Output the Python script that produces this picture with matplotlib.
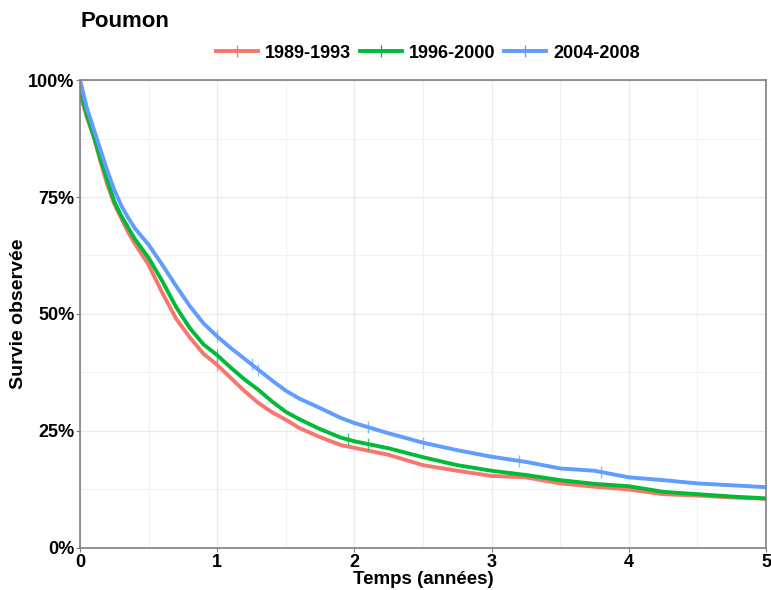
import numpy as np
import matplotlib
matplotlib.use('Agg')
from matplotlib import pyplot as plt
from matplotlib.lines import Line2D

plt.rcParams['font.family'] = ['Liberation Sans', 'DejaVu Sans']
plt.rcParams['font.weight'] = 'bold'

# survival (years, %)
temps = [0, 0.05, 0.1, 0.15, 0.2, 0.25, 0.3, 0.35, 0.4, 0.5, 0.6, 0.7, 0.8,
         0.9, 1.0, 1.1, 1.2, 1.3, 1.4, 1.5, 1.6, 1.75, 1.9, 2.0, 2.25, 2.5,
         2.75, 3.0, 3.25, 3.5, 3.75, 4.0, 4.25, 4.5, 4.75, 5.0]
surv_8993 = [97, 92, 87.8, 82.5, 77.5, 73.5, 70.5, 67.5, 65, 60.5, 54.5, 49,
             45, 41.5, 39.1, 36.3, 33.5, 31, 29, 27.4, 25.6, 23.7, 22, 21.4,
             19.9, 17.7, 16.5, 15.4, 15.1, 13.8, 13.1, 12.5, 11.5, 11.2,
             10.8, 10.5]
surv_9600 = [98, 92.5, 88, 83, 78.5, 74, 71, 68.5, 66, 62, 57, 51.5, 47, 43.5,
             41.2, 38.5, 36, 33.8, 31.3, 29.1, 27.5, 25.4, 23.6, 22.8, 21.3,
             19.4, 17.7, 16.5, 15.6, 14.5, 13.7, 13.2, 12.0, 11.5, 11.0, 10.6]
surv_0408 = [100, 94, 89.5, 85, 80.5, 76.5, 73.2, 70.6, 68.3, 64.8, 60.5, 56,
             51.7, 48, 45.2, 42.7, 40.4, 38.1, 35.8, 33.6, 31.9, 29.9, 27.8,
             26.7, 24.5, 22.5, 20.9, 19.5, 18.4, 17.0, 16.5, 15.1, 14.5, 13.8,
             13.4, 13.0]

# censoring marks (years)
cens_8993 = [1.0]
cens_9600 = [1.0, 1.95, 2.1]
cens_0408 = [1.0, 1.25, 1.3, 2.1, 2.5, 3.2, 3.8]

labels = ['1989-1993', '1996-2000', '2004-2008']
colors = ['#F8766D', '#00BA38', '#619CFF']
series = [surv_8993, surv_9600, surv_0408]
censors = [cens_8993, cens_9600, cens_0408]

fig = plt.figure(figsize=(7.71, 5.90), dpi=100)
ax = fig.add_axes([0.1038, 0.0712, 0.8897, 0.7932])

for s, c, col in zip(series, censors, colors):
    ax.plot(temps, s, color=col, linewidth=2.8)
    ax.plot(c, np.interp(c, temps, s), linestyle='none', marker='|',
            markersize=9, markeredgewidth=1, color=col, alpha=0.7)

ax.set_xlim(0, 5)
ax.set_ylim(0, 100)
ax.set_xticks([0, 1, 2, 3, 4, 5])
ax.set_xticks([0.5, 1.5, 2.5, 3.5, 4.5], minor=True)
ax.set_yticks([0, 25, 50, 75, 100])
ax.set_yticklabels(['0%', '25%', '50%', '75%', '100%'])
ax.set_yticks([12.5, 37.5, 62.5, 87.5], minor=True)
ax.grid(True, which='major', color='#ebebeb', linewidth=1)
ax.grid(True, which='minor', color='#f2f2f2', linewidth=0.8)
ax.set_axisbelow(True)
for sp in ax.spines.values():
    sp.set_color('#7f7f7f')
    sp.set_linewidth(1.2)
ax.tick_params(which='major', length=3, color='#7f7f7f', labelsize=13,
               labelcolor='black', pad=1)
ax.tick_params(which='minor', length=0)
for lab in ax.get_xticklabels() + ax.get_yticklabels():
    lab.set_fontweight('bold')

ax.set_xlabel('Temps (années)', fontsize=13.5, fontweight='bold', labelpad=0.5)
ax.set_ylabel('Survie observée', fontsize=14, fontweight='bold')
ax.yaxis.set_label_coords(-0.077, 0.5)

fig.text(0.104, 0.963, 'Poumon', fontsize=16, fontweight='bold', va='center')

handles = [Line2D([0], [0], color=col, linewidth=2.8, marker='|',
                  markersize=9, markeredgewidth=1) for col in colors]
fig.legend(handles, labels, loc='center', bbox_to_anchor=(0.555, 0.91),
           ncol=3, frameon=False, handlelength=2.3, handletextpad=0.4,
           columnspacing=0.5, prop={'size': 13, 'weight': 'bold'})

fig.savefig('out.png', dpi=100)
